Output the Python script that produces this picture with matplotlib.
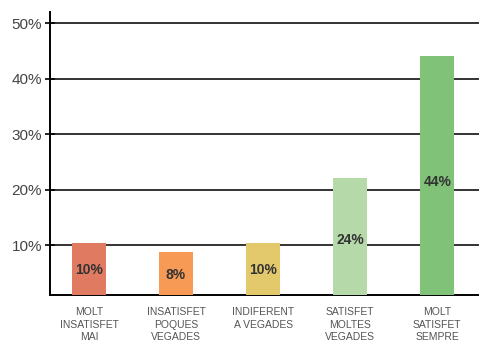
import matplotlib.pyplot as plt

# dades
categories = ['MOLT\nINSATISFET\nMAI', 'INSATISFET\nPOQUES\nVEGADES', 'INDIFERENT\nA VEGADES',
              'SATISFET\nMOLTES\nVEGADES', 'MOLT\nSATISFET\nSEMPRE']
values = [10.4, 8.8, 10.4, 22, 44]
value_labels = ['10%', '8%', '10%', '24%', '44%']
colors = ['#E07B62', '#F79A56', '#E3C96C', '#B5D9A9', '#80C277']
yticks = [10, 20, 30, 40, 50]

plt.rcParams['font.family'] = ['Liberation Sans', 'DejaVu Sans']

fig = plt.figure(figsize=(4.79, 3.45), dpi=100)
ax = fig.add_axes([0.104, 0.145, 0.896, 0.82])

x = list(range(len(categories)))
ax.bar(x, values, width=0.39, color=colors, zorder=3)

for i, v in enumerate(values):
    ax.text(i, (v + 1) / 2 * 0.95, value_labels[i], ha='center', va='center',
            fontsize=10, fontweight='bold', color='#333333', zorder=4)

# linies de la graella
ax.set_yticks(yticks)
ax.set_yticklabels([f'{t}%' for t in yticks], fontsize=11, color='#444444')
ax.yaxis.grid(True, color='#333333', linewidth=1.4, zorder=1)
ax.set_ylim(1, 52)
ax.set_xlim(-0.45, 4.48)
ax.tick_params(axis='y', direction='inout', length=7, width=1.2, pad=2)

ax.set_xticks(x)
ax.set_xticklabels(categories, fontsize=7.5, color='#555555', linespacing=1.3)
ax.tick_params(axis='x', length=0, pad=9)

for s in ['top', 'right']:
    ax.spines[s].set_visible(False)
ax.spines['left'].set_linewidth(1.4)
ax.spines['bottom'].set_linewidth(1.4)

fig.savefig('out.png', dpi=100)
